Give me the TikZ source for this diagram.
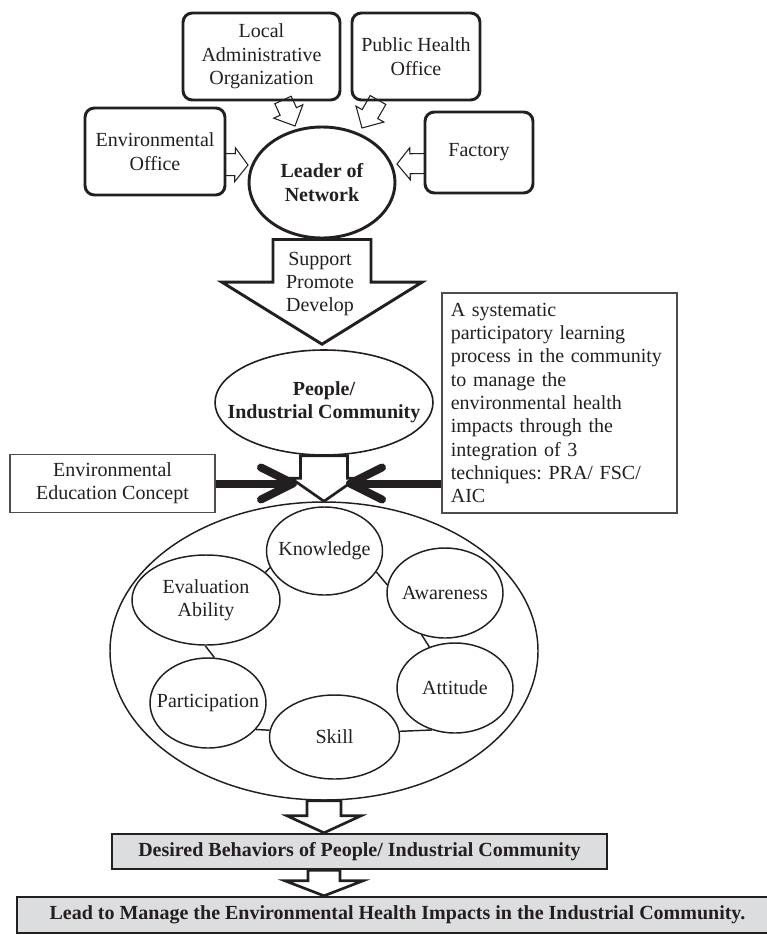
\documentclass[tikz,border=0pt]{standalone}
\usepackage{fontspec}
\setmainfont{Liberation Serif}
\usepackage{xcolor}
\usepackage{tikz}
\usetikzlibrary{calc,shapes.geometric,arrows.meta}

\definecolor{ink}{HTML}{231F20}
\definecolor{resultgray}{HTML}{DCDDDE}
\newcommand{\netfont}{\fontsize{15}{17.5}\selectfont\frenchspacing}
\newcommand{\hollowarrow}[6][]{\draw[hollowarr,#1] ($(#2)!#4!90:(#3)$) -- ($(#3)!#6!(#2)!#4!-90:(#2)$) -- ($(#3)!#6!(#2)!#5!-90:(#2)$) -- (#3) -- ($(#3)!#6!(#2)!#5!90:(#2)$) -- ($(#3)!#6!(#2)!#4!90:(#2)$) -- ($(#2)!#4!-90:(#3)$) -- cycle;}

\tikzset{
  orgbox/.style={draw=ink,line width=2.2pt,rounded corners=7pt,align=center,inner sep=0.75pt},
  keyellipse/.style={ellipse,draw=ink,inner sep=0.75pt},
  notebox/.style={draw=ink!80,line width=0.9pt,inner sep=0.75pt},
  skillnode/.style={ellipse,draw=ink,line width=1.1pt,inner sep=0.75pt},
  resultbox/.style={draw=ink,fill=resultgray,line width=1.8pt,font=\netfont\bfseries,inner sep=0.75pt},
  hollowarr/.style={draw=ink,line width=0.8pt},
  mixarrow/.style={draw=ink,line width=6pt,-{Straight Barb[length=24pt,width=24pt,round]}},
  ringlink/.style={draw=ink,line width=1.1pt},
  every label/.style={align=center,text=ink}
}

\begin{document}
\begin{tikzpicture}[x=0.75pt,y=0.75pt,yscale=-1,xscale=1,font=\netfont,text=ink]
\useasboundingbox (0,0) rectangle (767,935);

\node[orgbox,minimum width=117.75pt,minimum height=65.25pt] (lao) at (261.5,56.5) {Local\\Administrative\\Organization};
\node[orgbox,minimum width=96pt,minimum height=65.25pt] (pho) at (416,56.5) {Public Health\\Office};
\node[orgbox,minimum width=105pt,minimum height=65.25pt] (envoff) at (155,151.5) {Environmental\\Office};
\node[orgbox,minimum width=81pt,minimum height=60.75pt] (factory) at (479,152.5) {Factory};
\node[keyellipse,line width=2.2pt,minimum width=109.5pt,minimum height=83.25pt,label={[font=\netfont\bfseries]center:Leader of\\Network}] (leader) at (322,182.5) {};

\node[keyellipse,line width=1.2pt,minimum width=163.5pt,minimum height=78.75pt,label={[font=\netfont\bfseries]center:People/\\Industrial Community}] (people) at (324,402.5) {};

\node[notebox,minimum width=176.25pt,minimum height=165pt,text width=163pt,align=left] (method) at (559.5,403) {A systematic\\participatory learning\\process in the community\\to manage the\\environmental health\\impacts through the\\integration of 3\\techniques: PRA/ FSC/\\AIC};
\node[notebox,minimum width=153.75pt,minimum height=43.5pt,align=center] (eec) at (112.5,483.5) {Environmental\\Education Concept};

\node[ellipse,draw=ink,line width=1.1pt,minimum width=321pt,minimum height=223.5pt] (ring) at (324,651) {};
\node[skillnode,minimum width=87pt,minimum height=66pt,label=center:Knowledge] (knowl) at (324.5,551) {};
\node[skillnode,minimum width=87pt,minimum height=67.5pt,label=center:Awareness] (aware) at (445,593) {};
\node[skillnode,minimum width=87pt,minimum height=67.5pt,label=center:Attitude] (attit) at (455,688) {};
\node[skillnode,minimum width=97.5pt,minimum height=63pt,label=center:Skill] (skill) at (334.5,737) {};
\node[skillnode,minimum width=87pt,minimum height=67.5pt,label=center:Participation] (particip) at (208,703) {};
\node[skillnode,minimum width=111pt,minimum height=67.5pt,label={center:Evaluation\\Ability}] (evalab) at (206,600) {};

\draw[ringlink] (evalab.25) -- (knowl.197);
\draw[ringlink] (knowl.338) -- (aware.172);
\draw[ringlink] (aware.241) -- (attit.122);
\draw[ringlink] (attit.241) -- (skill.5);
\draw[ringlink] (skill.174) -- (particip.331);
\draw[ringlink] (particip.82) -- (evalab.269);

\node[resultbox,minimum width=371.25pt,minimum height=26.25pt] (desired) at (359.5,851.5) {Desired Behaviors of People/ Industrial Community};
\node[resultbox,minimum width=570.75pt,minimum height=27pt] (lead) at (397.5,915) {Lead to Manage the Environmental Health Impacts in the Industrial Community.};

\coordinate (laoout) at (283,100);
\coordinate (laoin) at (295,126);
\coordinate (phoout) at (378,100);
\coordinate (phoin) at (362,128);
\coordinate (eoout) at (225,164.5);
\coordinate (eoin) at (248,165);
\coordinate (facout) at (425,163.5);
\coordinate (facin) at (397,164);
\coordinate (supportin) at ($(leader.south |- people.north)+(0,-5)$);
\coordinate (peoplein) at (people.south |- ring.north);
\coordinate (ringin) at (ring.south |- desired.north);
\coordinate (desiredout) at (ring.south |- desired.south);
\coordinate (desiredin) at (ring.south |- lead.north);
\coordinate (mixL) at (297,483.5);
\coordinate (mixR) at (346,483.5);

\hollowarrow{laoout}{laoin}{6.75pt}{12pt}{12pt}
\hollowarrow{phoout}{phoin}{6.75pt}{12pt}{12pt}
\hollowarrow{eoout}{eoin}{8.25pt}{12.75pt}{9.75pt}
\hollowarrow{facout}{facin}{7.5pt}{12pt}{9.75pt}
\hollowarrow[line width=2.2pt]{leader.south}{supportin}{36.75pt}{75pt}{46.5pt}
\hollowarrow[line width=2pt]{people.south}{peoplein}{17.6pt}{24.75pt}{17.25pt}
\hollowarrow[line width=2pt]{ring.south}{ringin}{12.75pt}{27.75pt}{12.75pt}
\hollowarrow[line width=2pt]{desiredout}{desiredin}{12pt}{29.25pt}{11.25pt}

\node[align=center] (spd) at (320,284) {Support\\Promote\\Develop};

\draw[mixarrow] (eec.east) -- (mixL);
\draw[mixarrow] (method.west |- mixR) -- (mixR);
\end{tikzpicture}
\end{document}
